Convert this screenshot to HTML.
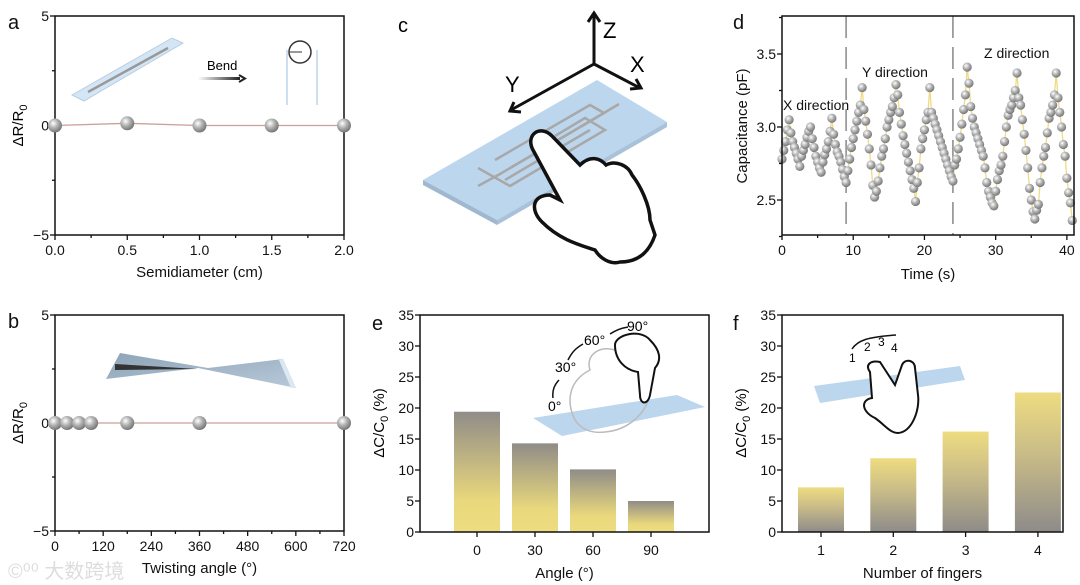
<!DOCTYPE html>
<html><head><meta charset="utf-8"><style>
html,body{margin:0;padding:0;background:#fff;}
svg{display:block;font-family:"Liberation Sans",Arial,sans-serif;}
</style></head><body>
<svg id="fig" width="1080" height="585" viewBox="0 0 1080 585" xmlns="http://www.w3.org/2000/svg">
<defs>
<radialGradient id="ball" cx="0.38" cy="0.35" r="0.7"><stop offset="0" stop-color="#ffffff"/><stop offset="0.45" stop-color="#b4b4b4"/><stop offset="1" stop-color="#6e6e6e"/></radialGradient>
<linearGradient id="gE" x1="0" y1="0" x2="0" y2="1"><stop offset="0" stop-color="#908c88"/><stop offset="0.75" stop-color="#ead97c"/><stop offset="1" stop-color="#eedc80"/></linearGradient>
<linearGradient id="gF" x1="0" y1="0" x2="0" y2="1"><stop offset="0" stop-color="#eedc80"/><stop offset="0.45" stop-color="#c8bb88"/><stop offset="1" stop-color="#8e8b89"/></linearGradient>
<linearGradient id="bendArrow" x1="0" y1="0" x2="1" y2="0"><stop offset="0" stop-color="#fff"/><stop offset="1" stop-color="#222"/></linearGradient>
<linearGradient id="twist" x1="0" y1="0" x2="1" y2="1"><stop offset="0" stop-color="#8ea4b8"/><stop offset="1" stop-color="#b7c8d8"/></linearGradient>
</defs>

<!-- panel c illustration -->
<g>
<text x="398" y="32" font-size="20">c</text>
<polygon points="423,180 597,80 667,122 497,220" fill="#bcd6ee"/>
<polygon points="423,180 497,220 497,225 423,185" fill="#9fb8cf"/>
<polygon points="497,220 667,122 667,127 497,225" fill="#a9c2d9"/>
<g stroke="#a8a8a8" stroke-width="2.5" fill="none">
<path d="M478,186 L500,174 L582,126 L619,104"/>
<path d="M478,168 L510,186 L605,130 L585,118 L555,136"/>
<path d="M495,160 L590,105 L604,113 L510,168"/>
<path d="M505,180 L590,130"/>
</g>
<g stroke="#111" stroke-width="3" fill="none">
<line x1="594" y1="64" x2="594" y2="14"/><polyline points="588,22 594,13 600,22"/>
<line x1="594" y1="64" x2="640" y2="88"/><polyline points="630,89 641,88 636,79"/>
<line x1="594" y1="64" x2="511" y2="110"/><polyline points="521,112 510,111 514,102"/>
</g>
<text x="603" y="38" font-size="22">Z</text>
<text x="630" y="72" font-size="22">X</text>
<text x="505" y="92" font-size="22">Y</text>
<path d="M533,150 C525,135 540,124 552,136 L580,165 C590,155 600,158 606,165 C615,160 628,165 632,175 C640,185 650,205 650,220 L655,235 C650,250 640,262 620,262 C610,265 600,258 595,250 C580,245 560,240 542,222 C530,210 532,195 550,195 L560,200 Z" fill="#fff" stroke="#111" stroke-width="3.5"/>
</g>

<!-- panel e illustration -->
<g>
<polygon points="533,418 677,395 705,407 562,436" fill="#bcd6ee"/>
<path d="M575,420 C565,400 570,380 590,370 C585,355 600,345 615,350 C625,340 640,345 640,360 L650,390 C650,410 630,430 605,432 C590,434 580,428 575,420 Z" fill="none" stroke="#bbb" stroke-width="1.5"/>
<path d="M615,345 C615,335 640,328 650,340 C660,350 662,360 655,368 L650,395 C648,405 640,405 640,395 L638,372 C625,370 615,360 615,345 Z" fill="#fff" stroke="#111" stroke-width="2"/>
<text x="548" y="411" font-size="14">0°</text>
<text x="555" y="372" font-size="14">30°</text>
<text x="584" y="345" font-size="14">60°</text>
<text x="627" y="331" font-size="14">90°</text>
<path d="M553,398 C552,390 555,384 559,380 M568,360 C572,352 576,348 583,344 M610,334 C616,330 622,328 628,327" stroke="#111" stroke-width="1.5" fill="none"/>
</g>

<!-- panel f illustration -->
<g>
<polygon points="814,386 960,366 965,380 820,403" fill="#bcd6ee"/>
<path d="M870,372 C865,365 870,360 880,362 L895,385 L902,365 C905,358 915,360 915,368 L918,395 C920,410 912,432 898,433 C890,433 885,425 875,418 C862,412 860,400 872,398 Z" fill="#fff" stroke="#111" stroke-width="2"/>
<path d="M852,349 C858,340 868,337 896,335" stroke="#111" stroke-width="1.5" fill="none"/>
<text x="849" y="362" font-size="12">1</text><text x="864" y="351" font-size="12">2</text><text x="878" y="346" font-size="12">3</text><text x="891" y="352" font-size="12">4</text>
</g>

<!-- panel a inset -->
<g>
<polygon points="72,95 172,38 183,43 84,101" fill="#d4e6f6" stroke="#b8cde0" stroke-width="1"/>
<line x1="88" y1="92" x2="168" y2="48" stroke="#999" stroke-width="2.5"/>
<text x="207" y="70" font-size="13">Bend</text>
<rect x="198" y="77" width="42" height="3" fill="url(#bendArrow)"/>
<polyline points="239,75 245,78.5 239,82" stroke="#222" stroke-width="2" fill="none"/>
<circle cx="300" cy="52" r="11" fill="none" stroke="#333" stroke-width="1.5"/>
<line x1="287" y1="50" x2="287" y2="105" stroke="#9bbfe0" stroke-width="1"/>
<line x1="317" y1="50" x2="317" y2="105" stroke="#9bbfe0" stroke-width="1"/>
<line x1="290" y1="52" x2="302" y2="52" stroke="#333" stroke-width="1"/>
</g>
<!-- panel b inset -->
<g>
<polygon points="106,379 120,353 208,368 283,359 296,388 198,368" fill="url(#twist)"/>
<polygon points="115,364 198,369 115,370" fill="#333"/>
<polygon points="283,359 296,388 291,388 279,360" fill="#dbe8f4"/>
</g>

<g id="charts"></g>
<text x="8" y="578" font-size="20" fill="#ddd" font-family="Liberation Sans, 'Noto Sans CJK SC', sans-serif">©⁰⁰ 大数跨境</text>
</svg>
<script>
// Panel a data
const aX = [0, 0.5, 1.0, 1.5, 2.0];
const aY = [0, 0.1, 0, 0, 0];
const aTicks = ["0.0","0.5","1.0","1.5","2.0"];
// Panel b data
const bX = [0, 30, 60, 90, 180, 360, 720];
const bY = [0, 0, 0, 0, 0, 0, 0];
const bTicks = ["0","120","240","360","480","600","720"];
// Panel d data (sampled every 0.25 s)
const dStep = 0.25;
const dVals = [2.78,2.84,2.9,2.98,3.05,2.96,2.9,2.86,2.82,2.78,2.73,2.8,2.84,2.88,2.93,2.97,3.0,2.92,2.86,2.8,2.76,2.72,2.69,2.76,2.81,2.85,2.9,2.97,3.06,2.95,2.88,2.83,2.8,2.76,2.71,2.66,
2.62,2.7,2.78,2.86,2.92,2.98,3.04,3.1,3.15,3.27,3.12,3.04,2.95,2.85,2.74,2.6,2.52,2.56,2.63,2.72,2.8,2.85,2.92,3.0,3.05,3.1,3.14,3.2,3.29,3.22,3.1,3.02,2.94,2.88,2.82,2.76,2.7,2.64,2.58,2.49,2.62,2.72,2.85,2.92,2.98,3.05,3.1,3.27,3.1,3.06,3.02,2.98,2.94,2.9,2.86,2.82,2.78,2.74,2.7,2.66,
2.63,2.74,2.78,2.85,2.93,3.02,3.12,3.22,3.41,3.3,3.14,3.06,3.0,2.96,2.92,2.88,2.84,2.8,2.72,2.62,2.56,2.52,2.48,2.46,2.56,2.64,2.7,2.74,2.8,2.9,3.0,3.08,3.12,3.15,3.2,3.25,3.37,3.2,3.15,3.05,2.95,2.84,2.72,2.58,2.5,2.42,2.37,2.43,2.47,2.62,2.72,2.8,2.86,2.96,3.06,3.1,3.15,3.22,3.37,3.2,3.1,3.0,2.88,2.8,2.65,2.55,2.48,2.36];
const dDividers = [9, 24];
const dXTicks = ["0","10","20","30","40"];
const dYTicks = ["2.5","3.0","3.5"];
// Panel e data
const eCats = ["0","30","60","90"];
const eVals = [19.4, 14.3, 10.1, 5.0];
// Panel f data
const fCats = ["1","2","3","4"];
const fVals = [7.2, 11.9, 16.2, 22.5];
const barYTicks = ["0","5","10","15","20","25","30","35"];

const NS = "http://www.w3.org/2000/svg";
const root = document.getElementById("charts");
function mk(tag, attrs, parent) {
  const e = document.createElementNS(NS, tag);
  for (const k in attrs) e.setAttribute(k, attrs[k]);
  (parent || root).appendChild(e);
  return e;
}
function txt(s, x, y, size, anchor, parent, rot) {
  const t = mk("text", {x: x, y: y, "font-size": size, "text-anchor": anchor || "middle", fill: "#111"}, parent);
  if (rot) t.setAttribute("transform", "rotate(-90 " + x + " " + y + ")");
  t.textContent = s;
  return t;
}
function frame(g, x0, y0, x1, y1) {
  const r = mk("rect", {x: x0, y: y0, width: x1 - x0, height: y1 - y0, fill: "none", stroke: "#111", "stroke-width": 1.5}, g);
  
  
}
function tick(g, x1, y1, x2, y2) { mk("line", {x1: x1, y1: y1, x2: x2, y2: y2, stroke: "#111", "stroke-width": 1.3}, g); }

function scatterPanel(name, letter, X, Y, ticks, xmin, xmax, x0, x1, y0, y1, xtitle, labelY, r) {
  const g = mk("g", {});
  
  
  const sx = v => x0 + (v - xmin) / (xmax - xmin) * (x1 - x0);
  const sy = v => y1 - (v + 5) / 10 * (y1 - y0);
  frame(g, x0, y0, x1, y1);
  const lt = txt(letter, 8, y0 + 13, 20, "start", g);
  
  
  [-5, 0, 5].forEach(v => { tick(g, x0 - 5, sy(v), x0, sy(v)); txt(v < 0 ? "\u22125" : String(v), x0 - 6, sy(v) + 5, 14, "end", g); });
  [-2.5, 2.5].forEach(v => tick(g, x0 - 3, sy(v), x0, sy(v)));
  const n = ticks.length;
  for (let i = 0; i < n; i++) {
    const v = xmin + i * (xmax - xmin) / (n - 1);
    tick(g, sx(v), y1, sx(v), y1 + 5);
    txt(ticks[i], sx(v), y1 + 20, 14, "middle", g);
    if (i < n - 1) { const m = v + (xmax - xmin) / (n - 1) / 2; tick(g, sx(m), y1, sx(m), y1 + 3); }
  }
  const xt = txt(xtitle, (x0 + x1) / 2, y1 + 42, 15, "middle", g);
  
  
  const yt = mk("text", {x: 23, y: (y0 + y1) / 2, "font-size": 15, "text-anchor": "middle", transform: "rotate(-90 23 " + (y0 + y1) / 2 + ")"}, g);
  yt.innerHTML = '\u0394R/R<tspan font-size="11" dy="4">0</tspan>';
  
  
  const pts = X.map((v, i) => sx(v) + "," + sy(Y[i])).join(" ");
  const line = mk("polyline", {points: pts, fill: "none", stroke: "#c9a198", "stroke-width": 1.3}, g);
  
  
  X.forEach((v, i) => {
    const c = mk("circle", {cx: sx(v), cy: sy(Y[i]), r: r, fill: "url(#ball)"}, g);
    
    
  });
}
scatterPanel("panel-a-chart", "a", aX, aY, aTicks, 0, 2, 55, 344, 16, 235, "Semidiameter (cm)", 126, 7);
scatterPanel("panel-b-chart", "b", bX, bY, bTicks, 0, 720, 55, 344, 315, 531, "Twisting angle (\u00b0)", 423, 7);

// Panel d
(function () {
  const g = mk("g", {});
  
  
  const x0 = 782, x1 = 1074, y0 = 16, y1 = 235;
  const sx = t => x0 + t / 41 * (x1 - x0);
  const sy = v => 200 - (v - 2.5) / 0.5 * 73;
  const lt = txt("d", 733, 29, 20, "start", g);
  
  
  dDividers.forEach(t => {
    const l = mk("line", {x1: sx(t), y1: y0, x2: sx(t), y2: y1, stroke: "#888", "stroke-width": 1.5, "stroke-dasharray": "22,9"}, g);
    
    
  });
  const pts = dVals.map((v, i) => sx(i * dStep) + "," + sy(v)).join(" ");
  const line = mk("polyline", {points: pts, fill: "none", stroke: "#eedb86", "stroke-width": 1.3}, g);
  
  
  dVals.forEach((v, i) => {
    const c = mk("circle", {cx: sx(i * dStep), cy: sy(v), r: 4.6, fill: "url(#ball)"}, g);
    
    
  });
  frame(g, x0, y0, x1, y1);
  dXTicks.forEach((s, i) => { const t = i * 10; tick(g, sx(t), y1, sx(t), y1 + 5); tick(g, sx(t + 5), y1, sx(t + 5), y1 + 3); txt(s, sx(t), y1 + 20, 14, "middle", g); });
  dYTicks.forEach((s, i) => { const v = 2.5 + i * 0.5; tick(g, x0 - 5, sy(v), x0, sy(v)); tick(g, x0 - 3, sy(v + 0.25), x0, sy(v + 0.25)); txt(s, x0 - 6, sy(v) + 5, 14, "end", g); });
  tick(g, x0 - 3, sy(2.25), x0, sy(2.25));
  const xt = txt("Time (s)", (x0 + x1) / 2, 279, 15, "middle", g);
  
  
  const yt = txt("Capacitance (pF)", 747, 126, 15, "middle", g, true);
  
  
  [["X direction", 783, 110], ["Y direction", 862, 77], ["Z direction", 984, 58]].forEach(a => {
    const t = txt(a[0], a[1], a[2], 14, "start", g);
    
    
  });
})();

function barPanel(name, letter, cats, vals, x0, x1, c0, step, fill, xtitle, lx) {
  const g = mk("g", {});
  
  
  const y0 = 315, y1 = 532;
  const sy = v => y1 - v / 35 * (y1 - y0);
  const lt = txt(letter, lx, 330, 20, "start", g);
  
  
  vals.forEach((v, i) => {
    const cx = c0 + i * step;
    const b = mk("rect", {x: cx - 23, y: sy(v), width: 46, height: y1 - sy(v), fill: fill}, g);
    
    
    tick(g, cx, y1, cx, y1 + 5);
    txt(cats[i], cx, y1 + 23, 14, "middle", g);
  });
  frame(g, x0, y0, x1, y1);
  barYTicks.forEach((s, i) => { const v = i * 5; tick(g, x0 - 5, sy(v), x0, sy(v)); txt(s, x0 - 6, sy(v) + 5, 14, "end", g); });
  const xt = txt(xtitle, (x0 + x1) / 2, 578, 15, "middle", g);
  
  
  const yx = x0 - 36, yc = 423;
  const yt = mk("text", {x: yx, y: yc, "font-size": 15, "text-anchor": "middle", transform: "rotate(-90 " + yx + " " + yc + ")"}, g);
  yt.innerHTML = '\u0394C/C<tspan font-size="11" dy="4">0</tspan><tspan dy="-4"> (%)</tspan>';
  
  
}
barPanel("panel-e-chart", "e", eCats, eVals, 420, 709, 477, 58, "url(#gE)", "Angle (\u00b0)", 372);
barPanel("panel-f-chart", "f", fCats, fVals, 782, 1063, 821, 72.3, "url(#gF)", "Number of fingers", 733);
</script>
</body></html>
